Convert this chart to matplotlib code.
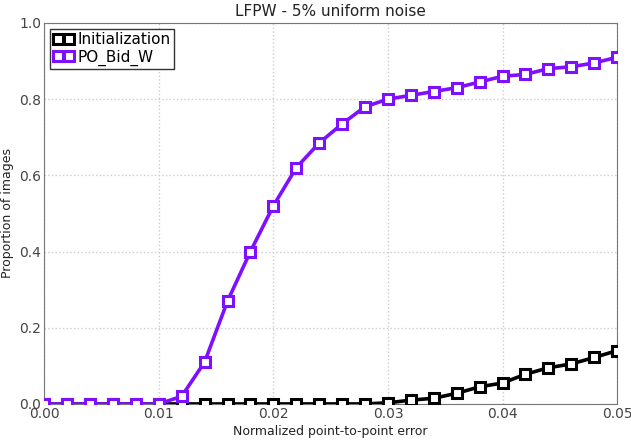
import matplotlib

matplotlib.use("Agg")

import matplotlib.pyplot as plt  # noqa: E402
import numpy as np  # noqa: E402

x_err = [0.000, 0.002, 0.004, 0.006, 0.008, 0.010, 0.012, 0.014, 0.016,
         0.018, 0.020, 0.022, 0.024, 0.026, 0.028, 0.030, 0.032, 0.034,
         0.036, 0.038, 0.040, 0.042, 0.044, 0.046, 0.048, 0.050]
init_vals = [0.0, 0.0, 0.0, 0.0, 0.0, 0.0, 0.0, 0.0, 0.0,
             0.0, 0.0, 0.0, 0.0, 0.0, 0.0, 0.003, 0.01, 0.015,
             0.028, 0.045, 0.055, 0.078, 0.095, 0.105, 0.122, 0.14]
po_vals = [0.0, 0.0, 0.0, 0.0, 0.0, 0.0, 0.02, 0.11, 0.27,
           0.40, 0.52, 0.62, 0.685, 0.735, 0.78, 0.80, 0.81, 0.82,
           0.83, 0.845, 0.86, 0.865, 0.88, 0.885, 0.895, 0.91]
x_ticks = [0.00, 0.01, 0.02, 0.03, 0.04, 0.05]
y_ticks = [0.0, 0.2, 0.4, 0.6, 0.8, 1.0]

fig = plt.figure(figsize=(6.31, 4.41), dpi=100)
ax = fig.add_axes([0.07, 0.084, 0.908, 0.864])

style = dict(marker="s", markersize=6.5, markerfacecolor="white",
             markeredgewidth=2.2, linewidth=2.6, numpoints=None)
style.pop("numpoints")
ax.plot(x_err, init_vals, color="black", label="Initialization", zorder=3, **style)
ax.plot(x_err, po_vals, color="#7f10ff", label="PO_Bid_W", zorder=4, **style)

ax.set_xlim(0, 0.05)
ax.set_ylim(0, 1.0)
ax.set_xticks(x_ticks)
ax.set_yticks(y_ticks)
ax.set_xticklabels([f"{v:.2f}" for v in x_ticks])
ax.set_yticklabels([f"{v:.1f}" for v in y_ticks])
ax.grid(True, linestyle=":", color="#cccccc", linewidth=1)
ax.set_axisbelow(True)
for s in ax.spines.values():
    s.set_color("#777777")
ax.tick_params(labelsize=10, labelcolor="#444444", length=0, pad=2)

ax.set_xlabel("Normalized point-to-point error", fontsize=9, labelpad=3,
              color="#222222")
ax.set_ylabel("Proportion of images", fontsize=9, color="#222222")
ax.set_title("LFPW - 5% uniform noise", fontsize=11, pad=5, color="#222222")

leg = ax.legend(loc="upper left", fontsize=11, numpoints=2, handlelength=1.3,
                borderpad=0.2, labelspacing=0.15, handletextpad=0.3,
                fancybox=False, borderaxespad=0.4)
leg.get_frame().set_edgecolor("#333333")
leg.get_frame().set_alpha(1)

fig.savefig("out.png", dpi=100)
